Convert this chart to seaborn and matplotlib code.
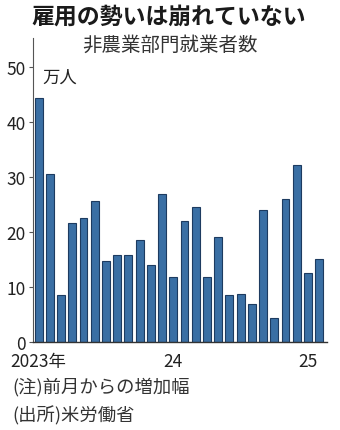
import matplotlib
matplotlib.use("Agg")
import matplotlib.pyplot as plt
import seaborn as sns
import pandas as pd

# Monthly change in US nonfarm payrolls (10k persons), Jan 2023 - Feb 2025
months = [f"{y}-{m:02d}" for y in (2023, 2024) for m in range(1, 13)] + ["2025-01", "2025-02"]
values = [44.4, 30.6, 8.5, 21.6, 22.6, 25.7, 14.8, 15.8, 15.8, 18.6, 14.1, 26.9,
          11.9, 22.1, 24.5, 11.8, 19.2, 8.6, 8.7, 7.0, 24.0, 4.3, 26.1, 32.2,
          12.5, 15.1]
tick_positions = [0, 12, 24]
tick_labels = ["2023年", "24", "25"]
y_ticks = [0, 10, 20, 30, 40, 50]

sns.set_theme(style="white")
plt.rcParams["font.family"] = ["Noto Sans CJK JP", "DejaVu Sans"]

df = pd.DataFrame({"month": months, "value": values})

fig = plt.figure(figsize=(3.4, 4.31), dpi=100)
ax = fig.add_axes([0.097, 0.204, 0.865, 0.705])

sns.barplot(data=df, x="month", y="value", ax=ax, color="#3a6fa4",
            saturation=1, width=0.7, edgecolor="#1d3b60", linewidth=0.8)

ax.set_ylim(0, 55.3)
ax.set_xlim(-0.5, 25.7)
ax.set_yticks(y_ticks)
ax.set_yticklabels([str(v) for v in y_ticks])
ax.set_xticks(tick_positions)
ax.set_xticklabels(tick_labels)
ax.set_xlabel("")
ax.set_ylabel("")

for side in ("top", "right"):
    ax.spines[side].set_visible(False)
ax.spines["left"].set_color("#555555")
ax.spines["left"].set_linewidth(0.8)
ax.spines["bottom"].set_color("#333333")
ax.spines["bottom"].set_linewidth(1.0)

ax.tick_params(axis="y", left=True, length=3, width=0.8, color="#555555",
               labelsize=12.5, pad=2, labelcolor="#222222")
ax.tick_params(axis="x", bottom=False, labelsize=12.5, pad=1, labelcolor="#222222")

ax.text(0.3, 48.3, "万人", fontsize=12.5, color="#222222", va="center", ha="left")

fig.text(0.497, 0.961, "雇用の勢いは崩れていない", fontsize=16.5, fontweight="bold",
         ha="center", va="center", color="#1a1a1a")
fig.text(0.5, 0.896, "非農業部門就業者数", fontsize=14, ha="center", va="center",
         color="#333333")
fig.text(0.035, 0.102, "(注)前月からの増加幅", fontsize=13.2, ha="left", va="center",
         color="#333333")
fig.text(0.035, 0.035, "(出所)米労働省", fontsize=13.2, ha="left", va="center",
         color="#333333")

fig.savefig("out.png", dpi=100)
